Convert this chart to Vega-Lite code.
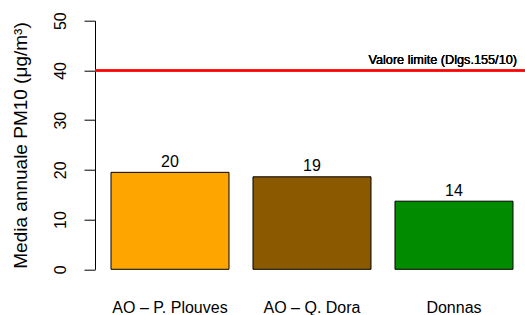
{
  "$schema": "https://vega.github.io/schema/vega-lite/v6.json",
  "autosize": {"type": "none"},
  "padding": {"left": 95, "top": 20.7, "right": 0, "bottom": 45.7},
  "width": 430,
  "height": 248.6,
  "background": "white",
  "config": {
    "font": "Liberation Sans",
    "view": {"stroke": null},
    "axis": {"grid": false, "labelColor": "black", "titleColor": "black", "domainColor": "black", "tickColor": "black"}
  },
  "data": {
    "values": [
      {"station": "AO – P. Plouves", "pm10": 19.5},
      {"station": "AO – Q. Dora", "pm10": 18.6},
      {"station": "Donnas", "pm10": 13.7}
    ]
  },
  "layer": [
    {
      "mark": {"type": "bar", "stroke": "black", "strokeWidth": 1},
      "encoding": {
        "x": {
          "field": "station", "type": "nominal", "sort": null,
          "scale": {"paddingInner": 0.169, "paddingOuter": 0.0986, "align": 0.571},
          "axis": {"title": null, "domain": false, "ticks": false, "labelAngle": 0, "labelFontSize": 16, "labelPadding": 30, "labelFont": "Liberation Sans"}
        },
        "y": {
          "field": "pm10", "type": "quantitative",
          "scale": {"domain": [0, 50], "nice": false},
          "axis": {
            "title": "Media annuale PM10 (μg/m³)", "values": [0, 10, 20, 30, 40, 50],
            "labelAngle": -90, "labelAlign": "center", "labelBaseline": "alphabetic",
            "labelFontSize": 16, "tickSize": 11, "labelPadding": 19,
            "titleFontSize": 19, "titleFontWeight": "normal", "titlePadding": 22
          }
        },
        "color": {
          "field": "station", "type": "nominal", "legend": null,
          "scale": {"domain": ["AO – P. Plouves", "AO – Q. Dora", "Donnas"], "range": ["#FFA500", "#8B5A00", "#008B00"]}
        }
      }
    },
    {
      "mark": {"type": "text", "fontSize": 16, "baseline": "alphabetic", "dy": -5.5, "color": "black"},
      "encoding": {
        "x": {"field": "station", "type": "nominal", "sort": null},
        "y": {"field": "pm10", "type": "quantitative"},
        "text": {"field": "pm10", "type": "quantitative", "format": ".0f"}
      }
    },
    {
      "mark": {"type": "rule", "color": "#FF0000", "strokeWidth": 2},
      "encoding": {"y": {"datum": 40}}
    },
    {
      "mark": {"type": "text", "fontSize": 12.7, "align": "right", "baseline": "alphabetic", "dy": -6.5, "dx": 4, "color": "black"},
      "encoding": {
        "x": {"datum": "Donnas", "type": "nominal", "bandPosition": 1},
        "y": {"datum": 40},
        "text": {"value": "Valore limite (Dlgs.155/10)"}
      }
    }
  ]
}
